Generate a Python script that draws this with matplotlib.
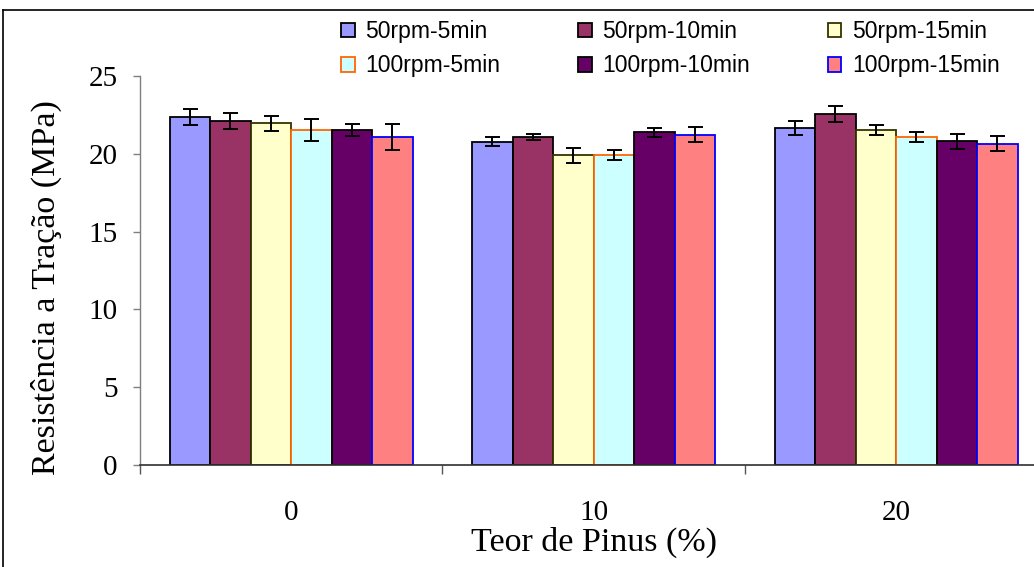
import numpy as np
import matplotlib
matplotlib.use('Agg')
import matplotlib.pyplot as plt
from matplotlib.patches import Patch
from matplotlib.lines import Line2D

# teor de pinus (%)
grupos = ['0', '10', '20']
series = ['50rpm-5min', '50rpm-10min', '50rpm-15min',
          '100rpm-5min', '100rpm-10min', '100rpm-15min']

# resistencia a tracao (MPa), one list per series over the 3 groups
r_50_5 = [22.38, 20.78, 21.68]
r_50_10 = [22.10, 21.08, 22.54]
r_50_15 = [21.96, 19.90, 21.53]
r_100_5 = [21.53, 19.92, 21.08]
r_100_10 = [21.53, 21.38, 20.80]
r_100_15 = [21.08, 21.23, 20.65]

# desvio padrao
e_50_5 = [0.50, 0.30, 0.45]
e_50_10 = [0.50, 0.22, 0.50]
e_50_15 = [0.50, 0.50, 0.30]
e_100_5 = [0.73, 0.35, 0.30]
e_100_10 = [0.38, 0.30, 0.50]
e_100_15 = [0.85, 0.50, 0.50]

valores = [r_50_5, r_50_10, r_50_15, r_100_5, r_100_10, r_100_15]
erros = [e_50_5, e_50_10, e_50_15, e_100_5, e_100_10, e_100_15]

cores = ['#9999FF', '#993366', '#FFFFCC', '#CCFFFF', '#660066', '#FF8080']
bordas = ['#000000', '#000000', '#333300', '#FF6600', '#000000', '#0000FF']

W, H = 1034, 567
fig = plt.figure(figsize=(W / 100, H / 100), dpi=100)
ax = fig.add_axes([140 / W, (H - 465) / H, (1047.5 - 140) / W, (465 - 76) / H])

x = np.arange(len(grupos))
w = 40.5 / 302.5
for j in range(len(series)):
    pos = x + (j - 2.5) * w
    ax.bar(pos, valores[j], width=w, color=cores[j], edgecolor=bordas[j],
           linewidth=1.3, label=series[j], zorder=2)
    ax.errorbar(pos, valores[j], yerr=erros[j], fmt='none', ecolor='black',
                elinewidth=1.4, capsize=5.4, capthick=1.4, zorder=3)

ax.set_xlim(-0.5, 2.5)
ax.set_ylim(0, 25)
ax.set_yticks([0, 5, 10, 15, 20, 25])
ax.set_xticks(x)
ax.set_xticklabels(grupos)
ax.set_xticks([-0.5, 0.5, 1.5, 2.5], minor=True)

serif = 'Liberation Serif'
for lab in ax.get_xticklabels() + ax.get_yticklabels():
    lab.set_fontfamily(serif)
    lab.set_fontsize(21)

ax.tick_params(axis='x', which='major', length=0, pad=25)
ax.tick_params(axis='x', which='minor', length=6.5, width=1, color='#555555', direction='out')
ax.tick_params(axis='y', length=5, width=1, color='#7f7f7f', pad=11, direction='out')

ax.spines['top'].set_visible(False)
ax.spines['right'].set_visible(False)
ax.spines['left'].set_color('#7f7f7f')
ax.spines['bottom'].set_color('#303030')
ax.spines['left'].set_linewidth(1)
ax.spines['bottom'].set_linewidth(1.2)

fig.text(471 / W, 1 - 542 / H, 'Teor de Pinus (%)', fontfamily=serif,
         fontsize=24.5, ha='left', va='center')
fig.text(46 / W, 1 - 288 / H, 'Resistência a Tração (MPa)', fontfamily=serif,
         fontsize=24.5, rotation=90, ha='center', va='center')

handles = [Patch(facecolor=cores[j], edgecolor=bordas[j], linewidth=1.3) for j in range(6)]
# order so that rows read like the reference (3 columns, 2 rows)
ordem = [0, 3, 1, 4, 2, 5]
fig.legend([handles[k] for k in ordem], [series[k] for k in ordem], ncol=3,
           loc='upper left', bbox_to_anchor=(341 / W, 1 - 20 / H),
           frameon=False, borderpad=0, borderaxespad=0,
           handlelength=0.6, handleheight=0.6, handletextpad=0.45,
           columnspacing=3.4, labelspacing=0.5,
           prop={'family': 'Liberation Sans', 'size': 16.5})

# chart-area border (left and top edges visible)
fig.add_artist(Line2D([3 / W, 3 / W], [0, 1 - 10 / H], color='black', lw=1.2))
fig.add_artist(Line2D([3 / W, 1], [1 - 10 / H, 1 - 10 / H], color='black', lw=1.2))

fig.savefig('out.png', dpi=100)
